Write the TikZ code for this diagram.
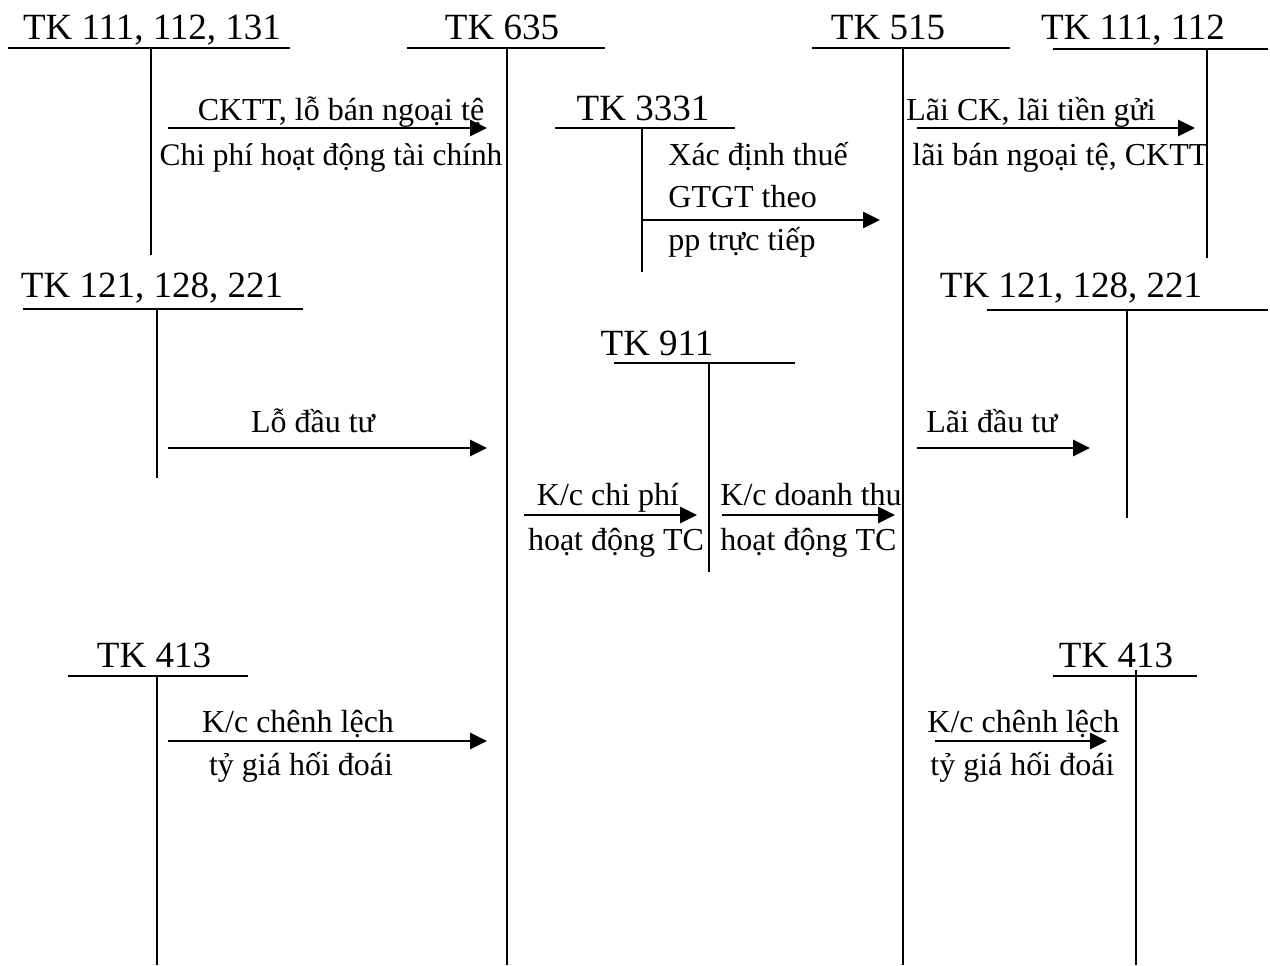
\documentclass[tikz,border=0pt]{standalone}
\usepackage{fontspec}
\setmainfont{Liberation Serif}
\usetikzlibrary{arrows.meta}
\begin{document}
\begin{tikzpicture}[x=0.5pt,y=-0.5pt,
  title/.style={anchor=base,inner sep=0pt,font=\fontsize{18.5}{21}\selectfont},
  lbl/.style={anchor=base,inner sep=0pt,font=\fontsize{16}{18}\selectfont},
  lblw/.style={lbl,anchor=base west},
  hbar/.style={line width=1.4pt},
  vbar/.style={line width=0.9pt},
  flow/.style={line width=1.4pt,-{Triangle[length=8.5pt,width=8pt]}}]
\useasboundingbox (0,0) rectangle (1270,965);
% ---- T accounts: title, horizontal bar, vertical bar
\node[title] (t111) at (152,39) {TK 111, 112, 131};
\draw[hbar] (8,48) -- (290,48);
\draw[vbar] (151,48) -- (151,255);

\node[title] (t635) at (502,39) {TK 635};
\draw[hbar] (407,48) -- (605,48);
\draw[vbar] (507,48) -- (507,965);

\node[title] (t3331) at (643,120) {TK 3331};
\draw[hbar] (555,128) -- (735,128);
\draw[vbar] (642,128) -- (642,272);

\node[title] (t515) at (888,39) {TK 515};
\draw[hbar] (812,48) -- (1010,48);
\draw[vbar] (903,48) -- (903,965);

\node[title] (t111r) at (1133,39) {TK 111, 112};
\draw[hbar] (1053,49) -- (1268,49);
\draw[vbar] (1207,49) -- (1207,258);

\node[title] (t121) at (152,297) {TK 121, 128, 221};
\draw[hbar] (23,309) -- (303,309);
\draw[vbar] (157,309) -- (157,478);

\node[title] (t911) at (657,355) {TK 911};
\draw[hbar] (614,363) -- (795,363);
\draw[vbar] (709,363) -- (709,572);

\node[title] (t121r) at (1071,297) {TK 121, 128, 221};
\draw[hbar] (987,310) -- (1268,310);
\draw[vbar] (1127,310) -- (1127,518);

\node[title] (t413) at (154,667) {TK 413};
\draw[hbar] (68,676) -- (248,676);
\draw[vbar] (157,676) -- (157,965);

\node[title] (t413r) at (1116,667) {TK 413};
\draw[hbar] (1053,676) -- (1197,676);
\draw[vbar] (1136,670) -- (1136,965);

% ---- arrow end points
\coordinate (a1s) at (168,128);  \coordinate (a1e) at (487,128);
\coordinate (a2s) at (642,220);  \coordinate (a2e) at (880,220);
\coordinate (a3s) at (917,128);  \coordinate (a3e) at (1195,128);
\coordinate (a4s) at (168,448);  \coordinate (a4e) at (487,448);
\coordinate (a5s) at (524,515);  \coordinate (a5e) at (697,515);
\coordinate (a6s) at (722,515);  \coordinate (a6e) at (895,515);
\coordinate (a7s) at (917,448);  \coordinate (a7e) at (1090,448);
\coordinate (a8s) at (168,741);  \coordinate (a8e) at (487,741);
\coordinate (a9s) at (935,741);  \coordinate (a9e) at (1107,741);

\draw[flow] (a1s) -- (a1e);
\draw[flow] (a2s) -- (a2e);
\draw[flow] (a3s) -- (a3e);
\draw[flow] (a4s) -- (a4e);
\draw[flow] (a5s) -- (a5e);
\draw[flow] (a6s) -- (a6e);
\draw[flow] (a7s) -- (a7e);
\draw[flow] (a8s) -- (a8e);
\draw[flow] (a9s) -- (a9e);

% ---- labels
\node[lbl] (l1a) at (341,120) {CKTT, lỗ bán ngoại tệ};
\node[lbl,font=\fontsize{15.7}{18}\selectfont] (l1b) at (331,165) {Chi phí hoạt động tài chính};
\node[lblw] (l2a) at (668,165) {Xác định thuế};
\node[lblw] (l2b) at (668,207) {GTGT theo};
\node[lblw] (l2c) at (668,250) {pp trực tiếp};
\node[lblw] (l3a) at (906,120) {Lãi CK, lãi tiền gửi};
\node[lblw] (l3b) at (912,165) {lãi bán ngoại tệ, CKTT};
\node[lbl] (l4) at (313,432) {Lỗ đầu tư};
\node[lbl] (l5a) at (608,505) {K/c chi phí};
\node[lbl] (l5b) at (616,550) {hoạt động TC};
\node[lblw] (l6a) at (720,505) {K/c doanh thu};
\node[lblw] (l6b) at (720,550) {hoạt động TC};
\node[lblw] (l7) at (926,432) {Lãi đầu tư};
\node[lbl] (l8a) at (298,732) {K/c chênh lệch};
\node[lbl] (l8b) at (301,775) {tỷ giá hối đoái};
\node[lblw] (l9a) at (927,732) {K/c chênh lệch};
\node[lblw] (l9b) at (930,775) {tỷ giá hối đoái};
\end{tikzpicture}
\end{document}
